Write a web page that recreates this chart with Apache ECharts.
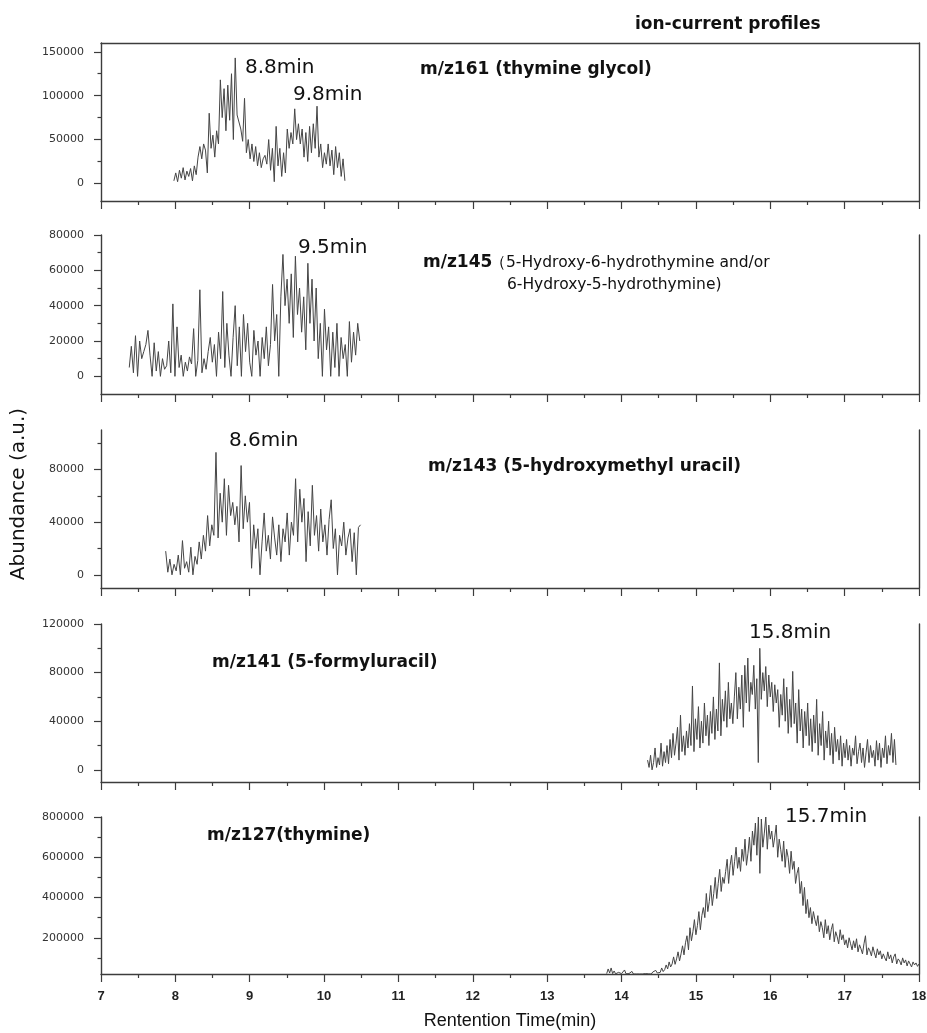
<!DOCTYPE html>
<html>
<head>
<meta charset="utf-8">
<title>ion-current profiles</title>
<script src="https://cdn.jsdelivr.net/npm/echarts@6/dist/echarts.min.js"></script>
<style>
  html, body { margin: 0; padding: 0; background: #fff; }
  #main { width: 927px; height: 1033px; }
</style>
</head>
<body>
<div id="main"></div>
<script>
// abundances are written in thousands (a.u. / 1000)
var K = 1000;

// m/z161 (thymine glycol)
var p1Start = 7.98, p1End = 10.28;
var p1Values = [3, 12, 2, 15, 6, 18, 4, 14, 8, 17, 3, 20, 10, 30, 42, 28, 45, 38, 12, 80,
  40, 55, 30, 60, 45, 118, 75, 108, 60, 112, 72, 125, 50, 143, 78, 70, 62, 48, 97, 35,
  50, 28, 45, 25, 42, 20, 35, 18, 28, 32, 22, 50, 15, 40, 2, 65, 20, 40, 8, 35,
  12, 62, 40, 58, 45, 85, 50, 68, 45, 62, 30, 58, 25, 65, 35, 68, 40, 88, 30, 45,
  18, 35, 22, 45, 20, 38, 10, 42, 18, 35, 8, 28, 3];

// m/z145
var p2Start = 7.38, p2End = 10.48;
var p2Values = [5, 17, 2, 23, 0, 20, 10, 14, 18, 26, 12, 0, 19, 3, 14, 0, 10, 4, 6,
  20, 2, 41, 0, 28, 5, 12, 0, 8, 3, 11, 7, 27, 0, 9, 49, 2, 10, 4, 14, 22, 8, 18, 0, 25, 10, 48,
  5, 30, 12, 0, 22, 40, 6, 28, 0, 35, 14, 30, 8, 0, 26, 12, 20, 0, 22, 10, 28, 6, 18, 52, 20, 35, 0,
  45, 69, 40, 55, 30, 58, 22, 68, 35, 50, 25, 45, 15, 64, 30, 55,
  20, 50, 10, 30, 0, 38, 15, 28, 0, 25, 5, 30, 0, 22, 10, 18, 0, 31, 8, 25, 12, 30, 20];

// m/z143 (5-hydroxymethyl uracil)
var p3Start = 7.87, p3End = 10.49;
var p3Values = [18, 2, 12, 0, 8, 3, 15, 0, 26, 5, 10, 2, 21, 0, 14,
  8, 25, 12, 30, 18, 45, 22, 38, 30,
  93, 28, 62, 40, 73, 30, 68, 45, 55, 38, 52, 25, 83, 35, 60, 40,
  55, 5, 38, 20, 35, 0,
  25, 47, 18, 30, 12, 44, 28, 15, 38, 10, 35, 25, 47, 15, 40, 30,
  73, 25, 65, 40, 58, 10, 48, 22, 68, 30, 45,
  18, 50, 25, 38, 15, 42, 57, 20, 35, 0, 30, 22, 40, 15, 28, 35, 10, 32, 0, 36, 38];

// m/z141 (5-formyluracil)
var p4Start = 14.35, p4End = 17.69;
var p4Values = [8, 2, 12, 0, 6, 18, 2, 10, 4, 22, 3, 15, 6,
  20, 5, 25, 10, 30, 12, 22, 35, 8, 45, 15, 28, 12, 32, 18,
  38, 20, 69, 15, 42, 25, 52, 18, 40, 22, 55, 28, 45, 20, 48,
  30, 60, 25, 50, 32, 88, 28, 58, 40, 65, 35, 72, 42, 55, 38,
  60, 80, 42, 68, 50, 78, 35, 86, 55, 92, 48, 72, 62, 86, 50, 75, 6,
  100, 58, 80, 65, 85, 52, 78, 60, 72, 48, 70, 55, 66, 35, 62, 45, 75, 40,
  68, 30, 58, 35, 81, 38, 55, 22, 66, 32, 50, 18, 48, 28, 55, 20, 42, 15, 45, 22,
  58, 12, 38, 20, 48, 8, 32, 18, 40, 12, 30, 5, 35, 15, 25, 8, 28, 3, 22, 10,
  25, 8, 20, 3, 18, 12, 28, 5, 15, 22, 6, 18, 2, 14, 25, 6, 20, 10, 16, 3, 24, 8, 22, 2,
  18, 10, 28, 5, 20, 12, 30, 6, 25, 4];

// m/z127 (thymine)
var p5Start = 13.8, p5End = 18.0;
var p5Values = [22, 45, 25, 50, 22, 35, 21, 20, 28, 20, 22, 20, 40, 21, 20, 22, 20, 33, 20, 21,
  20, 22, 20, 21, 20, 20, 22, 20, 21, 26, 20, 30, 22, 38, 25, 30,
  28, 50, 32, 42, 65, 45, 80, 55, 70, 105, 68, 95, 130, 85, 120,
  160, 115, 175, 210, 140, 250, 185, 230, 290, 215, 260, 330, 240, 310, 350,
  300, 420, 330, 380, 460, 360, 420, 500, 395, 470, 540, 430, 500, 470, 530,
  590, 470, 560, 610, 510, 580, 650, 545, 600, 530, 640, 580, 690, 560, 620,
  700, 580, 730, 660, 770, 610, 800, 520, 790, 650, 720, 800, 640, 760, 690,
  730, 650, 700, 760, 600, 690, 640, 580, 680, 550, 640, 600, 520, 630, 540,
  580, 470, 520, 550, 420, 480, 360, 450, 320, 390, 300, 350, 270, 330, 290,
  260, 310, 230, 280, 250, 200, 290, 220, 260, 190, 240, 270, 180, 230, 205, 170, 240, 190, 215, 165,
  190, 150, 200, 170, 140, 185, 150, 195, 130, 165, 145, 120, 170, 210, 115, 150, 135, 110, 155, 125,
  100, 145, 115, 135, 95,
  120, 100, 85, 130, 95, 115, 75, 105, 120, 70, 95, 85, 65, 100, 75, 90, 60, 85, 70, 55,
  80, 65, 75, 58, 70];

// y axis ranges and tick values per panel
var yMins = [-20000, -10000, -10000, -10000, 20000];
var yMaxs = [160000, 80000, 110000, 120000, 800000];
var yMajors = [
  [0, 50000, 100000, 150000],
  [0, 20000, 40000, 60000, 80000],
  [0, 40000, 80000],
  [0, 40000, 80000, 120000],
  [200000, 400000, 600000, 800000]
];
var yMinors = [
  [25000, 75000, 125000],
  [10000, 30000, 50000, 70000],
  [20000, 60000, 100000],
  [20000, 60000, 100000],
  [100000, 300000, 500000, 700000]
];

var traces = [
  [p1Start, p1End, p1Values],
  [p2Start, p2End, p2Values],
  [p3Start, p3End, p3Values],
  [p4Start, p4End, p4Values],
  [p5Start, p5End, p5Values]
];

var gridTops = [43, 235, 430, 624, 817];
var gridHeights = [158, 159, 158, 158, 157];
var axisColor = '#3c3c3c';

function toPoints(t) {
  var start = t[0], end = t[1], vals = t[2];
  var step = (end - start) / (vals.length - 1);
  return vals.map(function (v, i) { return [start + i * step, v * K]; });
}

var grid = [], xAxis = [], yAxis = [], series = [];
for (var i = 0; i < 5; i++) {
  var last = i === 4;
  grid.push({ left: 101, right: 8, top: gridTops[i], height: gridHeights[i], outerBoundsMode: 'none', containLabel: false });
  xAxis.push({
    type: 'value', gridIndex: i, min: 7, max: 18, interval: 1,
    axisLine: { show: true, onZero: false, lineStyle: { color: axisColor, width: 1.4 } },
    axisTick: { show: true, inside: false, length: 8, lineStyle: { color: axisColor, width: 1.2 } },
    minorTick: { show: true, splitNumber: 2, length: 4, lineStyle: { color: axisColor, width: 1.2 } },
    axisLabel: { show: last, margin: 16, color: '#222', fontFamily: 'Liberation Sans', fontWeight: 'bold', fontSize: 13 },
    splitLine: { show: false }
  });
  // main left axis: labels + major ticks
  yAxis.push({
    type: 'value', gridIndex: i, position: 'left', min: yMins[i], max: yMaxs[i],
    axisLine: { show: true, onZero: false, lineStyle: { color: axisColor, width: 1.4 } },
    axisTick: { show: true, inside: false, length: 7, customValues: yMajors[i], lineStyle: { color: axisColor, width: 1.2 } },
    axisLabel: {
      show: true, margin: 17, customValues: yMajors[i], color: '#333',
      fontFamily: 'DejaVu Sans', fontSize: 11,
      formatter: function (v) { return String(v); }
    },
    splitLine: { show: false }
  });
  // minor ticks on the left
  yAxis.push({
    type: 'value', gridIndex: i, position: 'left', min: yMins[i], max: yMaxs[i],
    axisLine: { show: false },
    axisTick: { show: true, inside: false, length: 3.5, customValues: yMinors[i], lineStyle: { color: axisColor, width: 1.2 } },
    axisLabel: { show: false },
    splitLine: { show: false }
  });
  // right frame line
  yAxis.push({
    type: 'value', gridIndex: i, position: 'right', min: yMins[i], max: yMaxs[i],
    axisLine: { show: true, onZero: false, lineStyle: { color: axisColor, width: 1.4 } },
    axisTick: { show: false }, axisLabel: { show: false }, splitLine: { show: false }
  });
  series.push({
    type: 'line', xAxisIndex: i, yAxisIndex: i * 3, data: toPoints(traces[i]),
    showSymbol: false, symbol: 'none', animation: false,
    lineStyle: { color: '#454545', width: 1 }
  });
}
// top frame line of the first panel
xAxis.push({
  type: 'value', gridIndex: 0, position: 'top', min: 7, max: 18,
  axisLine: { show: true, onZero: false, lineStyle: { color: axisColor, width: 1.4 } },
  axisTick: { show: false }, axisLabel: { show: false }, splitLine: { show: false }
});

function txt(text, x, y, size, bold, family) {
  return {
    type: 'text', x: x, y: y, silent: true,
    style: {
      text: text, fill: '#111', fontSize: size,
      fontWeight: bold ? 'bold' : 'normal',
      fontFamily: family || 'DejaVu Sans',
      verticalAlign: 'middle', align: 'left'
    }
  };
}

var graphic = [
  txt('8.8min', 245, 68, 20),
  txt('9.8min', 293, 95, 20),
  txt('m/z161 (thymine glycol)', 420, 70, 17, true),
  txt('9.5min', 298, 248, 20),
  txt('m/z145', 423, 263, 17, true),
  txt('（5-Hydroxy-6-hydrothymine and/or', 490, 263, 15.5),
  txt('6-Hydroxy-5-hydrothymine)', 507, 285, 15.5),
  txt('8.6min', 229, 441, 20),
  txt('m/z143 (5-hydroxymethyl uracil)', 428, 467, 17, true),
  txt('m/z141 (5-formyluracil)', 212, 663, 17, true),
  txt('15.8min', 749, 633, 20),
  txt('m/z127(thymine)', 207, 836, 17, true),
  txt('15.7min', 785, 817, 20),
  txt('ion-current profiles', 635, 25, 17, true),
  {
    type: 'text', x: 19, y: 494, rotation: Math.PI / 2, silent: true,
    style: { text: 'Abundance (a.u.)', fill: '#111', fontSize: 20, fontFamily: 'DejaVu Sans',
      align: 'center', verticalAlign: 'middle' }
  },
  {
    type: 'text', x: 510, y: 1021, silent: true,
    style: { text: 'Rentention Time(min)', fill: '#111', fontSize: 18, fontFamily: 'Liberation Sans',
      align: 'center', verticalAlign: 'middle' }
  }
];

var chart = echarts.init(document.getElementById('main'), null, { renderer: 'canvas' });
chart.setOption({
  backgroundColor: '#fff',
  animation: false,
  grid: grid,
  xAxis: xAxis,
  yAxis: yAxis,
  series: series,
  graphic: graphic
});
</script>
</body>
</html>
